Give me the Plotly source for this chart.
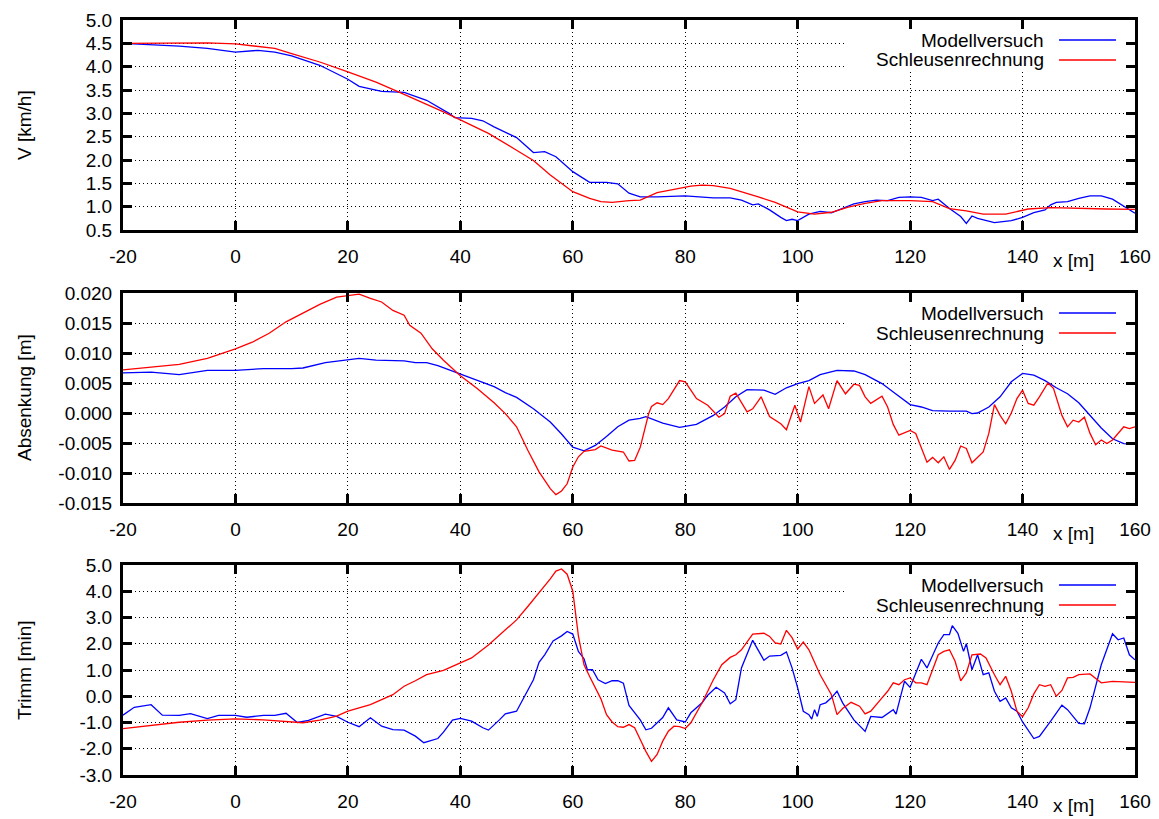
import plotly.graph_objects as go

# ---------------- data ----------------
# Panel 1: speed V [km/h]
x_v_model = [-20,-10,-5,0,4,7,10,15,20,22,26,30,34,38,39,42,44,46,50,53,55,57,60,63,66,68,70,72,75,80,
             85,88,90,92,93,95,97,98,99,100,102,104,106,108,110,112,114,116,118,120,122,124,125,127,129,130,
             131,132,135,138,140,142,144,145,146,148,150,152,154,156,158,160]
v_model = [4.50,4.44,4.39,4.31,4.35,4.31,4.23,4.03,3.73,3.58,3.47,3.45,3.28,3.00,2.91,2.89,2.84,2.71,2.48,2.16,
           2.18,2.07,1.75,1.52,1.52,1.49,1.29,1.21,1.21,1.23,1.19,1.19,1.14,1.04,1.06,0.93,0.77,0.70,0.73,0.70,
           0.84,0.90,0.87,0.96,1.06,1.11,1.14,1.13,1.20,1.21,1.20,1.13,1.16,0.96,0.79,0.64,0.80,0.75,0.66,0.70,
           0.77,0.87,0.93,1.04,1.09,1.11,1.18,1.23,1.23,1.16,1.01,0.86]

x_v_calc = [-20,-5,0,4,7,10,15,20,25,29,33,37,40,45,50,53,56,58,60,63,65,67,70,72,75,78,81,83,85,88,
            90,93,96,98,100,103,106,109,112,115,120,124,127,130,133,137,139,141,145,150,155,160]
v_calc = [4.50,4.51,4.49,4.44,4.39,4.28,4.10,3.89,3.67,3.46,3.25,3.03,2.86,2.57,2.21,1.99,1.68,1.50,1.32,1.18,
          1.11,1.09,1.13,1.14,1.30,1.37,1.44,1.46,1.45,1.39,1.32,1.21,1.09,0.99,0.89,0.84,0.88,0.99,1.07,1.13,
          1.13,1.11,0.96,0.91,0.84,0.84,0.89,0.95,0.98,0.96,0.95,0.94]

# Panel 2: Absenkung [m]
x_a_model = [-20,-15,-10,-5,0,5,10,12,16,20,22,25,30,32,34,36,38,40,43,46,48,50,53,56,58,60,62,64,66,68,
             70,72,73,76,79,82,85,87,89,91,94,96,98,100,102,104,107,110,112,115,117,120,122,124,127,130,131,
             132,134,136,138,140,142,144,146,148,150,152,154,156,158,160]
a_model = [0.0067,0.0068,0.0064,0.0071,0.0071,0.0074,0.0074,0.0075,0.0084,0.0088,
           0.0091,0.0088,0.0087,0.0084,0.0084,0.0079,0.0072,0.0064,0.0054,0.0044,
           0.0034,0.0026,0.0007,-0.0015,-0.0035,-0.0057,-0.0063,-0.0054,-0.0039,-0.0023,
           -0.0012,-0.0009,-0.0006,-0.0017,-0.0024,-0.0019,-0.0004,0.0010,0.0027,0.0039,
           0.0038,0.0031,0.0042,0.0049,0.0054,0.0064,0.0071,0.0070,0.0064,0.0049,
           0.0035,0.0014,0.0010,0.0004,0.0003,0.0003,-0.0001,0.0000,0.0010,0.0027,
           0.0052,0.0066,0.0063,0.0054,0.0042,0.0032,0.0017,-0.0004,-0.0025,-0.0043,
           -0.0051,-0.0052]

x_a_calc = [-20,-15,-10,-5,0,3,6,9,12,15,18,20,22,24,26,28,30,31,33,35,37,40,43,46,48,50,52,54,56,57,
            58,59,60,61,62,64,65,67,69,70,71,72,73.5,74,75,76,77,79,80,81,82,84,86,87,88,89,91,92,93.5,95,
            97,98,99.5,100.5,102,103,104.5,105.5,107,108.5,110,111,112,113,115,116,117,118,120,121,
            122,123,124,125,126,127,128,129,130,131,133,134,135,136,137,138,139,140,141,142,
            143,144.5,145.5,147,148,149,150,151,152,153,154,155,156,157,158,159,160]
a_calc = [0.0072,0.0076,0.0081,0.0091,0.0107,0.0118,0.0133,0.0152,0.0167,0.0181,
          0.0193,0.0195,0.0198,0.0191,0.0185,0.0171,0.0163,0.0146,0.0133,0.0107,
          0.0088,0.0062,0.0041,0.0017,-0.0001,-0.0023,-0.0062,-0.0098,-0.0126,-0.0136,
          -0.0130,-0.0118,-0.0090,-0.0073,-0.0064,-0.0061,-0.0055,-0.0062,-0.0065,-0.0080,
          -0.0079,-0.0057,-0.0001,0.0011,0.0017,0.0014,0.0024,0.0054,0.0052,0.0038,
          0.0024,0.0013,-0.0007,-0.0001,0.0028,0.0033,0.0002,0.0007,0.0027,-0.0006,
          -0.0018,-0.0028,0.0013,-0.0015,0.0044,0.0016,0.0030,0.0007,0.0054,0.0032,
          0.0048,0.0046,0.0027,0.0016,0.0028,0.0010,-0.0019,-0.0037,-0.0029,-0.0034,
          -0.0059,-0.0082,-0.0074,-0.0083,-0.0073,-0.0094,-0.0079,-0.0055,-0.0059,-0.0083,
          -0.0065,-0.0034,0.0014,-0.0004,-0.0018,0.0000,0.0024,0.0038,0.0016,0.0013,
          0.0027,0.0050,0.0041,-0.0004,-0.0023,-0.0012,-0.0015,-0.0007,-0.0034,-0.0053,
          -0.0045,-0.0051,-0.0045,-0.0034,-0.0023,-0.0026,-0.0023]

# Panel 3: Trimm [min]
x_t_model = [-20,-18,-15,-13,-10,-8,-5,-3,0,2,5,7,9,11,13,16,18,20,22,24,26,28,30,32,33.5,36,37,38.6,40,42,
             44,45,47,48,50,51.5,53,54,55,56.5,58,59,60,61,62,62.6,63.5,64.5,65.8,67,68,69,70,72,73,74,76,77,
             78.5,80,81,83,84,85.5,87,88,89,90,92,93,94,95,97,98,99,100,101,102,102.5,103,103.5,104,105,106,
             107,108,110,112,113,115,117,117.5,119,120,122,123,124,125,126,127,127.5,128.5,129.5,130,131,132,
             133,134,135,136,137,138,139,140,142,143,145,147,148,150,151,152,154,155,156,157,158,159,160]
t_model = [-0.72,-0.42,-0.32,-0.72,-0.73,-0.66,-0.85,-0.73,-0.73,-0.80,-0.73,-0.73,-0.65,-1.00,-0.92,-0.68,-0.77,
           -0.99,-1.16,-0.82,-1.14,-1.27,-1.29,-1.52,-1.77,-1.61,-1.37,-0.91,-0.84,-0.95,-1.20,-1.29,-0.89,-0.67,
           -0.57,0.06,0.63,1.29,1.58,2.11,2.30,2.47,2.37,1.71,1.43,1.01,1.01,0.63,0.48,0.59,0.59,0.50,-0.35,
           -0.90,-1.28,-1.22,-0.81,-0.44,-0.90,-0.98,-0.63,-0.25,0.04,0.34,0.13,-0.29,-0.13,1.08,2.13,1.75,
           1.37,1.53,1.56,1.69,1.08,0.32,-0.57,-0.70,-0.87,-0.51,-0.77,-0.32,-0.25,-0.06,0.19,-0.25,-0.90,
           -1.34,-0.77,-0.81,-0.51,-0.68,0.57,0.34,1.41,1.08,1.58,2.03,2.35,2.35,2.69,2.40,1.71,2.00,1.01,
           1.58,0.82,0.89,0.19,-0.19,-0.06,-0.44,-0.57,-0.98,-1.61,-1.53,-0.95,-0.34,-0.51,-1.03,-1.05,-0.44,
           1.20,1.78,2.38,2.15,2.22,1.58,1.39]

x_t_calc = [-20,-15,-10,-5,0,5,10,12,15,18,20,24,28,30,32,34,37,40,42,45,48,50,52,54,56,57,58,59,60,61,
            62,63,64,65,66,67,68,69,70,71,72,73,74,75,76,77,78,79,80,81,83,85,86.5,88,89,90,92,94,95,96,
            97,98,99,100,101,102,104,106,107,108,109.5,111,112,113,115,116,117,118,119,120,121,122,123,125,
            126,127,128,129,130,131,132.5,133.5,135,136,137,138,139,140,141,142,143,144,145,146,147,148,149,
            150,152,154,156,160]
t_calc = [-1.23,-1.11,-0.99,-0.91,-0.86,-0.90,-0.99,-1.01,-0.91,-0.76,-0.57,-0.32,0.06,0.38,0.59,0.82,0.99,
          1.27,1.46,1.95,2.53,2.91,3.42,3.94,4.47,4.77,4.85,4.65,4.00,2.30,1.20,0.75,0.35,-0.10,-0.70,-0.98,
          -1.16,-1.18,-1.08,-1.20,-1.65,-2.10,-2.48,-2.22,-1.71,-1.33,-1.14,-1.16,-1.23,-1.01,-0.25,0.63,1.20,
          1.48,1.58,1.77,2.37,2.40,2.28,2.03,1.99,2.51,2.23,1.80,2.06,1.77,0.82,0.06,-0.70,-0.47,-0.23,-0.38,
          -0.67,-0.57,-0.06,0.19,0.51,0.44,0.63,0.70,0.51,0.51,0.44,1.58,1.71,1.77,1.33,0.59,0.89,1.58,1.61,
          1.46,0.82,0.44,0.76,0.19,-0.57,-0.78,-0.44,0.09,0.44,0.38,0.44,0.00,0.22,0.70,0.72,0.82,0.85,0.51,
          0.57,0.53]

x_ticks = [-20, 0, 20, 40, 60, 80, 100, 120, 140, 160]
x_tick_text = ["-20", "0", "20", "40", "60", "80", "100", "120", "140", "160"]
v_ticks = [0.5, 1.0, 1.5, 2.0, 2.5, 3.0, 3.5, 4.0, 4.5, 5.0]
v_tick_text = ["0.5", "1.0", "1.5", "2.0", "2.5", "3.0", "3.5", "4.0", "4.5", "5.0"]
a_ticks = [-0.015, -0.010, -0.005, 0.0, 0.005, 0.010, 0.015, 0.020]
a_tick_text = ["-0.015", "-0.010", "-0.005", "0.000", "0.005", "0.010", "0.015", "0.020"]
t_ticks = [-3, -2, -1, 0, 1, 2, 3, 4, 5]
t_tick_text = ["-3.0", "-2.0", "-1.0", "0.0", "1.0", "2.0", "3.0", "4.0", "5.0"]

y_titles = ["V [km/h]", "Absenkung [m]", "Trimm [min]"]
series_names = ["Modellversuch", "Schleusenrechnung"]
colors = ["#0000ff", "#ff0000"]

# ---------------- layout helpers ----------------
W, H = 1159, 819
FONT = "Liberation Sans, Arial, sans-serif"
FS = 19


def px(x):
    return x / W


def py(y):
    return 1 - y / H


PLOT_L, PLOT_R = 123, 1135
panels = [(20, 230), (293, 503), (565, 775)]  # pixel top/bottom of each plot area

fig = go.Figure()

data_sets = [
    (x_v_model, v_model, x_v_calc, v_calc),
    (x_a_model, a_model, x_a_calc, a_calc),
    (x_t_model, t_model, x_t_calc, t_calc),
]
for i, (xm, ym, xc, yc) in enumerate(data_sets):
    suffix = "" if i == 0 else str(i + 1)
    fig.add_trace(go.Scatter(x=xm, y=ym, mode="lines", name=series_names[0],
                             line=dict(color=colors[0], width=1.3),
                             xaxis="x" + suffix, yaxis="y" + suffix, showlegend=False))
    fig.add_trace(go.Scatter(x=xc, y=yc, mode="lines", name=series_names[1],
                             line=dict(color=colors[1], width=1.3),
                             xaxis="x" + suffix, yaxis="y" + suffix, showlegend=False))

common = dict(
    showline=True, linecolor="black", linewidth=3, mirror="allticks",
    ticks="inside", ticklen=9, tickwidth=2.5, tickcolor="black",
    showgrid=True, gridcolor="black", gridwidth=1, griddash="1px,3px",
    zeroline=False, automargin=False,
    tickfont=dict(family=FONT, size=FS, color="black"),
)

y_specs = [
    ([0.5, 5.0], v_ticks, v_tick_text),
    ([-0.015, 0.020], a_ticks, a_tick_text),
    ([-3, 5], t_ticks, t_tick_text),
]

layout = dict(
    width=W, height=H, margin=dict(l=0, r=0, t=0, b=0, autoexpand=False),
    paper_bgcolor="white", plot_bgcolor="white", showlegend=False,
)
annotations = []
shapes = []
for i, (top, bot) in enumerate(panels):
    suffix = "" if i == 0 else str(i + 1)
    rng, tv, tt = y_specs[i]
    layout["xaxis" + suffix] = dict(common, domain=[px(PLOT_L), px(PLOT_R)], range=[-20, 160],
                                    tickvals=x_ticks, ticktext=x_tick_text,
                                    anchor="y" + suffix, ticklabelstandoff=7)
    layout["yaxis" + suffix] = dict(common, domain=[py(bot), py(top)], range=rng,
                                    tickvals=tv, ticktext=tt, anchor="x" + suffix,
                                    ticklabelstandoff=4)
    # y-axis title
    annotations.append(dict(text=y_titles[i], x=px(24), y=py((top + bot) / 2), xref="paper", yref="paper",
                            showarrow=False, textangle=-90, xanchor="center", yanchor="middle",
                            font=dict(family=FONT, size=FS, color="black")))
    # x-axis label
    annotations.append(dict(text="x [m]", x=px(1073), y=py(bot + 30), xref="paper", yref="paper",
                            showarrow=False, xanchor="center", yanchor="middle",
                            font=dict(family=FONT, size=FS, color="black")))
    # legend box (hides grid)
    shapes.append(dict(type="rect", xref="paper", yref="paper", x0=px(847), x1=px(1125),
                       y0=py(top + 50), y1=py(top + 11), fillcolor="white", line=dict(width=0),
                       layer="above"))
    for k in range(2):
        ly = top + 20 + 20 * k
        annotations.append(dict(text=series_names[k], x=px(1046), y=py(ly), xref="paper", yref="paper",
                                showarrow=False, xanchor="right", yanchor="middle",
                                font=dict(family=FONT, size=FS, color="black")))
        shapes.append(dict(type="line", xref="paper", yref="paper", x0=px(1059), x1=px(1116),
                           y0=py(ly), y1=py(ly), line=dict(color=colors[k], width=1.3), layer="above"))

layout["annotations"] = annotations
layout["shapes"] = shapes
fig.update_layout(**layout)
fig.write_html("out.html", config={"displayModeBar": False},
               post_script="document.body.style.margin='0';document.body.style.overflow='hidden';")
